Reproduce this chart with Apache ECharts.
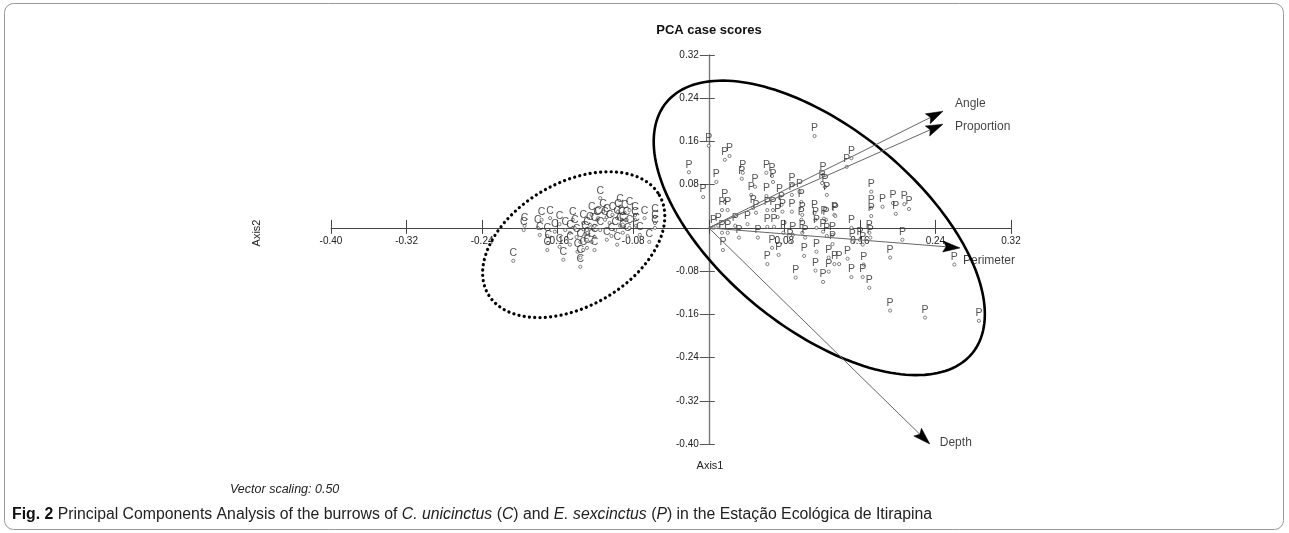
<!DOCTYPE html>
<html><head><meta charset="utf-8">
<script src="https://cdn.jsdelivr.net/npm/echarts@6/dist/echarts.min.js"></script>
<style>html,body{margin:0;padding:0;background:#fff}#c{width:1289px;height:533px}</style>
</head><body><div id="c"></div>
<script>
const chartTitle = 'PCA case scores';
const axisMin = -0.40, axisMax = 0.32, axisStep = 0.08;
const xName = 'Axis1', yName = 'Axis2';
const scalingNote = 'Vector scaling: 0.50';

// C. unicinctus case scores [Axis1, Axis2]
const cScores = [
[-0.207,-0.061],[-0.196,-0.004],[-0.195,0.004],[-0.181,0.000],[-0.177,0.015],[-0.168,0.018],
[-0.179,-0.013],[-0.171,-0.015],[-0.170,-0.028],[-0.171,-0.041],[-0.158,0.007],[-0.158,-0.035],
[-0.154,-0.059],[-0.144,0.015],[-0.147,-0.009],[-0.140,-0.017],[-0.136,-0.026],[-0.139,-0.044],
[-0.136,-0.055],[-0.136,-0.072],[-0.133,0.009],[-0.129,-0.004],[-0.129,-0.022],[-0.129,-0.037],
[-0.124,0.024],[-0.118,0.015],[-0.121,-0.017],[-0.124,-0.026],[-0.121,-0.041],[-0.115,0.055],
[-0.117,0.018],[-0.110,0.015],[-0.108,0.020],[-0.108,-0.022],[-0.105,0.009],[-0.102,0.024],
[-0.097,0.018],[-0.097,-0.031],[-0.094,0.039],[-0.092,0.015],[-0.091,0.006],[-0.091,-0.009],
[-0.087,0.015],[-0.078,0.024],[-0.078,0.015],[-0.077,0.004],[-0.073,-0.013],[-0.063,-0.026],
[-0.057,0.020],[-0.057,0.009],[-0.057,0.000],[-0.152,-0.004],[-0.142,0.000],[-0.126,0.006],
[-0.115,-0.004],[-0.112,0.030],[-0.099,-0.004],[-0.096,0.030],[-0.089,0.028],[-0.084,0.000],
[-0.084,0.033],[-0.131,-0.011],[-0.147,-0.031],[-0.163,-0.007],[-0.068,0.018],[-0.103,-0.015],
[-0.086,-0.015],[-0.133,-0.041],[-0.121,0.004],[-0.094,0.004]
];

// E. sexcinctus case scores [Axis1, Axis2]
const pScores = [
[0.112,0.170],[0.000,0.152],[0.017,0.126],[0.022,0.133],[-0.021,0.103],[0.008,0.085],
[-0.006,0.057],[0.036,0.102],[0.035,0.091],[0.061,0.102],[0.067,0.096],[0.068,0.085],
[0.049,0.076],[0.045,0.061],[0.047,0.037],[0.061,0.059],[0.075,0.057],[0.088,0.079],
[0.088,0.061],[0.096,0.067],[0.098,0.048],[0.068,0.033],[0.077,0.043],[0.078,0.030],
[0.088,0.030],[0.098,0.015],[0.112,0.028],[0.113,0.015],[0.124,0.015],[0.133,0.024],
[0.121,0.098],[0.120,0.083],[0.123,0.076],[0.125,0.061],[0.017,0.048],[0.020,0.033],
[0.014,0.033],[0.146,0.113],[0.151,0.129],[0.172,0.067],[0.172,0.037],[0.172,0.022],
[0.184,0.039],[0.195,0.046],[0.198,0.026],[0.207,0.044],[0.212,0.035],[0.134,0.022],
[0.151,0.000],[0.014,-0.009],[0.020,-0.009],[0.032,-0.018],[0.052,-0.018],[0.062,0.002],
[0.069,0.002],[0.079,-0.009],[0.089,-0.013],[0.099,-0.009],[0.102,-0.018],[0.114,0.000],
[0.121,-0.007],[0.125,-0.015],[0.131,-0.013],[0.160,-0.022],[0.170,-0.009],[0.205,-0.022],
[0.005,0.000],[0.010,0.004],[0.028,0.004],[0.041,0.007],[0.050,0.028],[0.062,0.033],
[0.073,0.020],[0.099,0.024],[0.122,0.017],[0.015,-0.041],[0.067,-0.037],[0.074,-0.050],
[0.062,-0.067],[0.086,-0.026],[0.101,-0.052],[0.092,-0.092],[0.114,-0.044],[0.113,-0.079],
[0.127,-0.055],[0.127,-0.081],[0.121,-0.100],[0.131,-0.030],[0.133,-0.067],[0.138,-0.067],
[0.147,-0.057],[0.151,-0.091],[0.152,-0.026],[0.163,-0.091],[0.164,-0.068],[0.170,-0.111],
[0.163,-0.031],[0.171,-0.018],[0.192,-0.055],[0.192,-0.153],[0.229,-0.166],[0.260,-0.068],
[0.286,-0.172]
];

// Variable vectors (scaled by 0.50)
const vectorNames = ['Angle', 'Proportion', 'Perimeter', 'Depth'];
const vectorX = [0.248, 0.248, 0.266, 0.234];
const vectorY = [0.216, 0.192, -0.037, -0.400];
const vectorLabelOffsets = [[12, -8], [12, 3], [3, 13], [10, -1]];

// Group ellipses: centre and two semi-axis vectors, in axis units
const ellipseCenters = [[-0.143, -0.031], [0.117, 0.000]];
const ellipseAxisU = [[0.0907, 0.0915], [0.162, -0.232]];
const ellipseAxisV = [[0.0328, -0.0992], [0.067, 0.143]];
const ellipseDashed = [true, false];

const FONT = 'Liberation Sans';
const fmt = v => Math.abs(v) < 1e-9 ? '' : v.toFixed(2);

const GRID = {left: 331, right: 278, top: 55, bottom: 89};
const W = 1289, H = 533;
const gridW = W - GRID.left - GRID.right, gridH = H - GRID.top - GRID.bottom;
// place the axes through the origin
const xAxisOffset = -gridH * (0 - axisMin) / (axisMax - axisMin);
const yAxisOffset = -gridW * (0 - axisMin) / (axisMax - axisMin);

const chart = echarts.init(document.getElementById('c'), null, {renderer: 'canvas'});

function pointSeries(data, letter) {
  return {
    type: 'scatter', data: data, symbol: 'circle', symbolSize: 3.2, z: 3,
    itemStyle: {color: '#fff', borderColor: '#555', borderWidth: 0.9},
    label: {show: true, formatter: letter, position: 'top', distance: 0,
      fontSize: 10.5, fontFamily: FONT, color: '#2a2a2a'},
    emphasis: {disabled: true}, silent: true
  };
}

const baseAxis = {
  type: 'value', min: axisMin, max: axisMax, interval: axisStep,
  splitLine: {show: false}
};

chart.setOption({
  animation: false,
  backgroundColor: '#fff',
  grid: GRID,
  xAxis: [
    Object.assign({}, baseAxis, {
      position: 'bottom', offset: xAxisOffset,
      axisLine: {show: true, onZero: false, lineStyle: {color: '#444', width: 1}},
      axisTick: {show: true, inside: false, length: 6, lineStyle: {color: '#444'}},
      axisLabel: {show: true, margin: 8, formatter: fmt, fontSize: 10, fontFamily: FONT, color: '#222'}
    }),
    Object.assign({}, baseAxis, {
      position: 'bottom', offset: xAxisOffset,
      axisLine: {show: false, onZero: false},
      axisTick: {show: true, inside: true, length: 8, lineStyle: {color: '#444'}},
      axisLabel: {show: false}
    })
  ],
  yAxis: [
    Object.assign({}, baseAxis, {
      position: 'left', offset: yAxisOffset,
      axisLine: {show: true, onZero: false, lineStyle: {color: '#777', width: 1.4}},
      axisTick: {show: true, inside: false, length: 9, lineStyle: {color: '#555'}},
      axisLabel: {show: true, margin: 10, formatter: fmt, fontSize: 10, fontFamily: FONT, color: '#222'}
    }),
    Object.assign({}, baseAxis, {
      position: 'left', offset: yAxisOffset,
      axisLine: {show: false, onZero: false},
      axisTick: {show: true, inside: true, length: 6, lineStyle: {color: '#555'}},
      axisLabel: {show: false}
    })
  ],
  series: [
    {
      type: 'custom', coordinateSystem: 'cartesian2d', z: 4, silent: true, clip: false,
      data: ellipseCenters.map((c, i) => [c[0], c[1], i]),
      renderItem: function (params, api) {
        const i = api.value(2);
        const c = ellipseCenters[i], u = ellipseAxisU[i], v = ellipseAxisV[i];
        const pts = [];
        const n = 180;
        for (let k = 0; k < n; k++) {
          const t = 2 * Math.PI * k / n;
          pts.push(api.coord([c[0] + Math.cos(t) * u[0] + Math.sin(t) * v[0],
                              c[1] + Math.cos(t) * u[1] + Math.sin(t) * v[1]]));
        }
        const dashed = ellipseDashed[i];
        return {
          type: 'polygon', shape: {points: pts},
          style: dashed
            ? {fill: 'none', stroke: '#000', lineWidth: 3.2, lineDash: [0.1, 5.2], lineCap: 'round'}
            : {fill: 'none', stroke: '#000', lineWidth: 2.6}
        };
      }
    },
    pointSeries(cScores, 'C'),
    pointSeries(pScores, 'P'),
    {
      type: 'custom', coordinateSystem: 'cartesian2d', z: 5, silent: true, clip: false,
      data: vectorNames.map((n, i) => [vectorX[i], vectorY[i]]),
      renderItem: function (params, api) {
        const o = api.coord([0, 0]);
        const t = api.coord([api.value(0), api.value(1)]);
        const dx = t[0] - o[0], dy = t[1] - o[1];
        const len = Math.sqrt(dx * dx + dy * dy);
        const ux = dx / len, uy = dy / len, px = -uy, py = ux;
        const hl = 17, hw = 5.5, notch = 14;
        const bx = t[0] - ux * hl, by = t[1] - uy * hl;
        const nx = t[0] - ux * notch, ny = t[1] - uy * notch;
        return {
          type: 'group',
          children: [
            {type: 'line', shape: {x1: o[0], y1: o[1], x2: nx, y2: ny},
              style: {stroke: '#666', lineWidth: 1}},
            {type: 'polygon', shape: {points: [t, [bx + px * hw, by + py * hw], [nx, ny], [bx - px * hw, by - py * hw]]},
              style: {fill: '#000', stroke: '#000', lineWidth: 0.5}}
          ]
        };
      }
    },
    {
      type: 'scatter', z: 6, silent: true, symbolSize: 0, clip: false,
      data: vectorNames.map((n, i) => ({
        value: [vectorX[i], vectorY[i]], name: n,
        label: {offset: vectorLabelOffsets[i]}
      })),
      label: {show: true, formatter: '{b}', position: 'inside', align: 'left',
        verticalAlign: 'middle', fontSize: 12, fontFamily: FONT, color: '#111'}
    }
  ],
  graphic: [
    {type: 'rect', silent: true, shape: {x: 4.5, y: 3.5, width: 1279, height: 526, r: 9},
      style: {fill: 'none', stroke: '#999', lineWidth: 1}},
    {type: 'text', x: 709, y: 30, silent: true,
      style: {text: chartTitle, align: 'center', verticalAlign: 'middle',
        font: 'bold 13px "Liberation Sans"', fill: '#111'}},
    {type: 'text', x: 710, y: 466, silent: true,
      style: {text: xName, align: 'center', verticalAlign: 'middle',
        font: '11px "Liberation Sans"', fill: '#222'}},
    {type: 'text', x: 257, y: 233, rotation: Math.PI / 2, silent: true,
      style: {text: yName, align: 'center', verticalAlign: 'middle',
        font: '11px "Liberation Sans"', fill: '#222'}},
    {type: 'text', x: 230, y: 490, silent: true,
      style: {text: scalingNote, align: 'left', verticalAlign: 'middle',
        font: 'italic 12.5px "Liberation Sans"', fill: '#222'}},
    {type: 'text', x: 12, y: 515, silent: true,
      style: {
        text: '{b|Fig. 2} Principal Components Analysis of the burrows of {i|C. unicinctus} ({i|C}) and {i|E. sexcinctus} ({i|P}) in the Estação Ecológica de Itirapina',
        align: 'left', verticalAlign: 'middle', fontSize: 15.8, fontFamily: FONT, fill: '#222',
        rich: {b: {fontWeight: 'bold', fontSize: 15.8, fontFamily: FONT, fill: '#111'},
               i: {fontStyle: 'italic', fontSize: 15.8, fontFamily: FONT, fill: '#222'}}
      }}
  ]
});
</script></body></html>
